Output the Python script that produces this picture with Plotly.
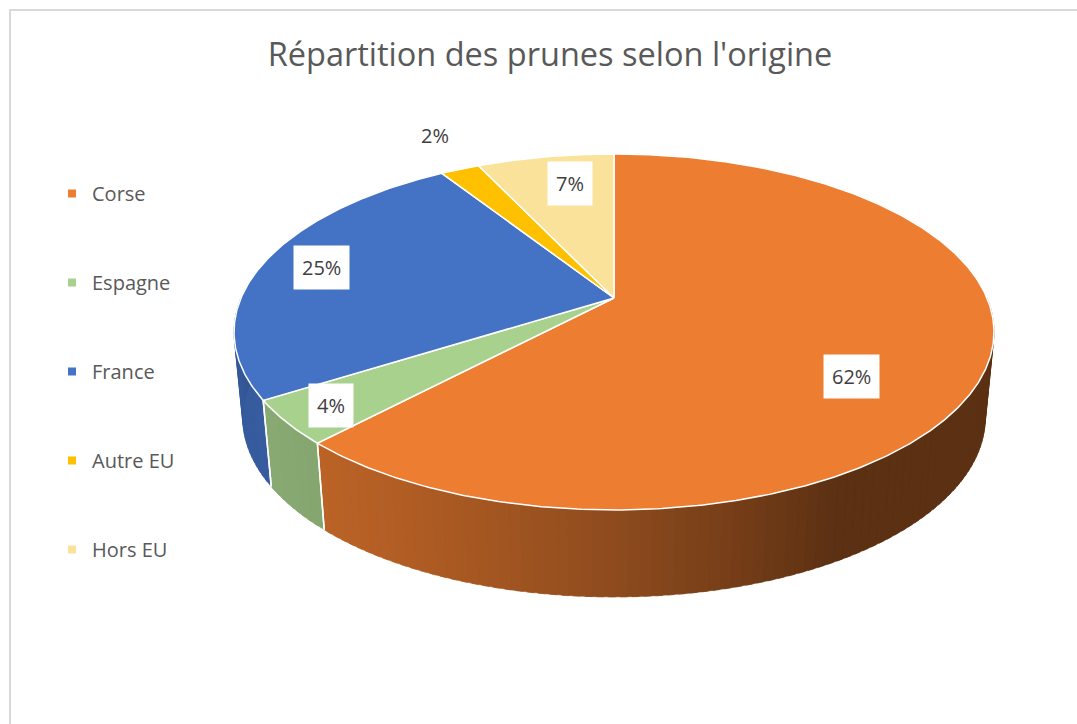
import math
import numpy as np
import plotly.graph_objects as go

# ---------------- data ----------------
categories = ["Corse", "Espagne", "France", "Autre EU", "Hors EU"]
values = [62, 4, 25, 2, 7]
colors = ["#ED7D31", "#A9D18E", "#4472C4", "#FFC000", "#FAE29B"]
title_text = "Répartition des prunes selon l'origine"

# ---------------- style / geometry of the 3D pie ----------------
W, H = 1077, 724
CX, CY = 614, 298          # apex of the pie on screen (px)
RX, RY = 373, 171.5        # radii of the top face
DPERSP = 5.24              # perspective distance
THICK = 85.5               # side thickness
BOT_SCALE = 0.977          # slight perspective shrink of bottom face
LIGHT = (-0.87, -0.5)      # light direction in pie plane
# label placement (radius factor, angle nudge in degrees)
label_r = [0.72, 0.88, 0.83, 1.30, 0.78]
label_dt = [14, 0, 0, 2, 2.5]
label_box = [True, True, True, False, True]


def proj(theta_deg, r=1.0):
    t = math.radians(theta_deg)
    s, c = math.sin(t), math.cos(t)
    f = DPERSP / (DPERSP + r * c)
    return CX + RX * r * s * f, CY - RY * r * c * f


def proj_bottom(theta_deg):
    x, y = proj(theta_deg)
    t = math.radians(theta_deg)
    return CX + (x - CX) * BOT_SCALE, y + THICK - 1.5 * math.cos(t)


def hex_to_rgb(h):
    h = h.lstrip("#")
    return tuple(int(h[i:i + 2], 16) for i in (0, 2, 4))


def shade(col, theta_deg):
    t = math.radians(theta_deg)
    n = (math.sin(t), math.cos(t))
    d = max(0.0, n[0] * LIGHT[0] + n[1] * LIGHT[1])
    k = 0.39 + 0.42 * d
    r, g, b = hex_to_rgb(col)
    return "rgb(%d,%d,%d)" % (r * k, g * k, b * k)


total = sum(values)
bounds = []
acc = 0.0
for v in values:
    a = acc / total * 360.0
    acc += v
    b = acc / total * 360.0
    bounds.append((a, b))

fig = go.Figure()

# ---- side walls (only the front-facing part, 90..270 deg) ----
VIS_A, VIS_B = 90.0, 270.0
for (a, b), col in zip(bounds, colors):
    lo, hi = max(a, VIS_A), min(b, VIS_B)
    if lo >= hi:
        continue
    n = max(2, int(math.ceil((hi - lo) / 1.5)))
    ts = np.linspace(lo, hi, n + 1)
    step = ts[1] - ts[0]
    for t0, t1 in zip(ts[:-1], ts[1:]):
        t1e = min(hi, t1 + step * 0.6)   # overlap to hide seams
        p0 = proj(t0); p1 = proj(t1e)
        q1 = proj_bottom(t1e); q0 = proj_bottom(t0)
        c = shade(col, (t0 + t1) / 2)
        fig.add_trace(go.Scatter(
            x=[p0[0], p1[0], q1[0], q0[0], p0[0]],
            y=[p0[1], p1[1], q1[1], q0[1], p0[1]],
            mode="lines", fill="toself", fillcolor=c,
            line=dict(color=c, width=0.5),
            hoverinfo="skip", showlegend=False))

# white edges between slices on the side
for a, b in bounds:
    for t in (a, b):
        if VIS_A < t < VIS_B:
            p = proj(t); q = proj_bottom(t)
            fig.add_trace(go.Scatter(
                x=[p[0], q[0]], y=[p[1], q[1]], mode="lines",
                line=dict(color="white", width=1.5),
                hoverinfo="skip", showlegend=False))

# ---- top faces ----
for (a, b), col, cat in zip(bounds, colors, categories):
    ts = np.linspace(a, b, max(3, int((b - a) / 0.5)))
    xs = [CX] + [proj(t)[0] for t in ts] + [CX]
    ys = [CY] + [proj(t)[1] for t in ts] + [CY]
    fig.add_trace(go.Scatter(
        x=xs, y=ys, mode="lines", fill="toself", fillcolor=col,
        line=dict(color="white", width=1.5),
        name=cat, hoverinfo="name", showlegend=False))

# ---- legend entries ----
for col, cat in zip(colors, categories):
    fig.add_trace(go.Scatter(
        x=[None], y=[None], mode="markers",
        marker=dict(symbol="square", size=8, color=col),
        name=cat, legendgroup=cat, showlegend=True))

# ---- data labels ----
annotations = []
for i, ((a, b), v) in enumerate(zip(bounds, values)):
    mid = (a + b) / 2 + label_dt[i]
    x, y = proj(mid, label_r[i])
    pct = "%d%%" % round(v / total * 100)
    annotations.append(dict(
        x=x, y=y, xref="x", yref="y", text=pct, showarrow=False,
        font=dict(family="Open Sans", size=20, color="#404040"),
        bgcolor="white" if label_box[i] else "rgba(0,0,0,0)",
        borderpad=8, xanchor="center", yanchor="middle"))

fig.update_layout(
    width=W, height=H,
    margin=dict(l=0, r=0, t=0, b=0),
    paper_bgcolor="white", plot_bgcolor="white",
    xaxis=dict(range=[0, W], visible=False, fixedrange=True),
    yaxis=dict(range=[H, 0], visible=False, fixedrange=True),
    title=dict(text=title_text, x=550 / W, xanchor="center",
               y=1 - 55 / H, yanchor="middle",
               font=dict(family="Open Sans", size=32.5, color="#595959")),
    legend=dict(x=52 / W, y=1 - 174 / H, xanchor="left", yanchor="top",
                font=dict(family="Open Sans", size=20, color="#595959"),
                tracegroupgap=60, itemwidth=30, bgcolor="rgba(0,0,0,0)"),
    annotations=annotations,
    shapes=[dict(type="rect", xref="x", yref="y",
                 x0=10, y0=10, x1=W + 40, y1=H + 40,
                 line=dict(color="#D9D9D9", width=2), fillcolor="rgba(0,0,0,0)",
                 layer="below")],
    showlegend=True,
)

fig.write_html("out.html", config={"displayModeBar": False},
               post_script="document.body.style.margin='0';")
